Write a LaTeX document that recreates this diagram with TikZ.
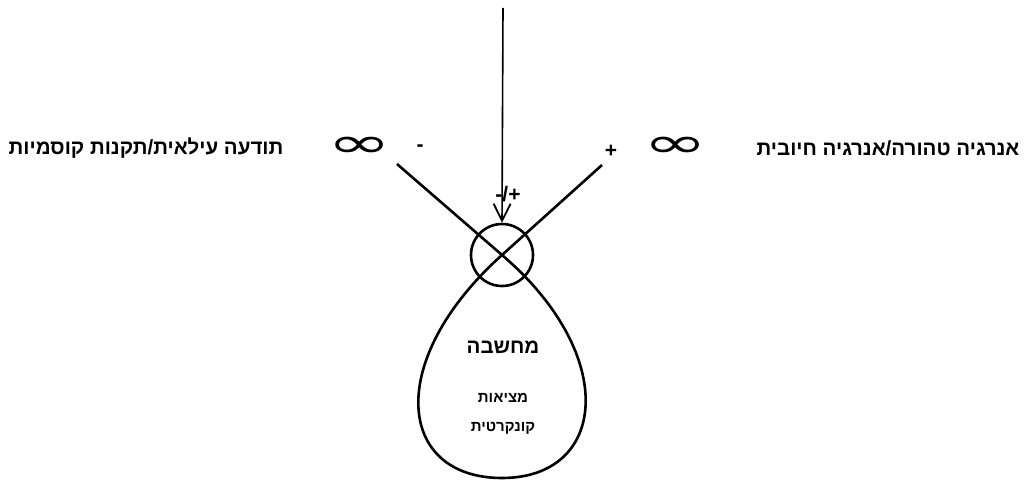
\documentclass[tikz,border=0pt]{standalone}
\usepackage{fontspec}
\setmainfont{Liberation Sans}
\newfontfamily\hebfont[Script=Hebrew]{Liberation Sans}
\newfontfamily\symfont{DejaVu Sans}
\TeXXeTstate=1
\usetikzlibrary{arrows.meta}

\begin{document}
\begin{tikzpicture}[
    x=1pt, y=-1pt,
    label/.style={inner sep=0pt, font=\hebfont\bfseries\fontsize{20.5}{24}\selectfont},
    inlabel/.style={inner sep=0pt, font=\hebfont\bfseries\fontsize{15}{18}\selectfont},
    sign/.style={inner sep=0pt, font=\bfseries\fontsize{21}{24}\selectfont},
    inf/.style={inner sep=0pt, font=\symfont\fontsize{44}{44}\selectfont},
    hub/.style={draw, circle, line width=2.6pt, minimum size=62pt, inner sep=0pt},
    loopline/.style={line width=2.6pt},
    arr/.style={-{Straight Barb[length=17pt, width=17pt, line width=1.8pt]}, line width=1.6pt}
  ]
  \useasboundingbox (0,0) rectangle (1024,481);

  % ---- hub and incoming arrow ----
  \node[hub] (hub) at (502,255) {};
  \coordinate (top) at (503,8);
  \draw[arr] (top) -- (hub.north);
  \node[sign] (pm) at (508,194) {-/+};

  % ---- the two arms and the loop ----
  \coordinate (lt) at (397,164);
  \coordinate (rt) at (602,165);
  \coordinate (bot) at (502,478);
  \draw[loopline] (lt) -- (hub.center)
    .. controls (620,356) and (607,478) .. (bot)
    .. controls (397,478) and (384,361) .. (hub.center) -- (rt);

  % ---- left side ----
  \node[sign] (minus) at (420,148) {-};
  \node[inf] (infl) at (360,147) {\scalebox{1.75}[0.95]{∞}};
  \node[label] (cons) at (146,148) {\beginR תודעה עילאית/תקנות קוסמיות\endR};

  % ---- right side ----
  \node[sign] (plus) at (611,151) {+};
  \node[inf] (infr) at (676,147) {\scalebox{1.75}[0.95]{∞}};
  \node[label] (energy) at (888,148) {\beginR אנרגיה טהורה/אנרגיה חיובית\endR};

  % ---- inside the loop ----
  \node[label] (thought) at (503,347) {\beginR מחשבה\endR};
  \node[inlabel] (real) at (503,398) {\beginR מציאות\endR};
  \node[inlabel] (concrete) at (503,428) {\beginR קונקרטית\endR};

\end{tikzpicture}
\end{document}
